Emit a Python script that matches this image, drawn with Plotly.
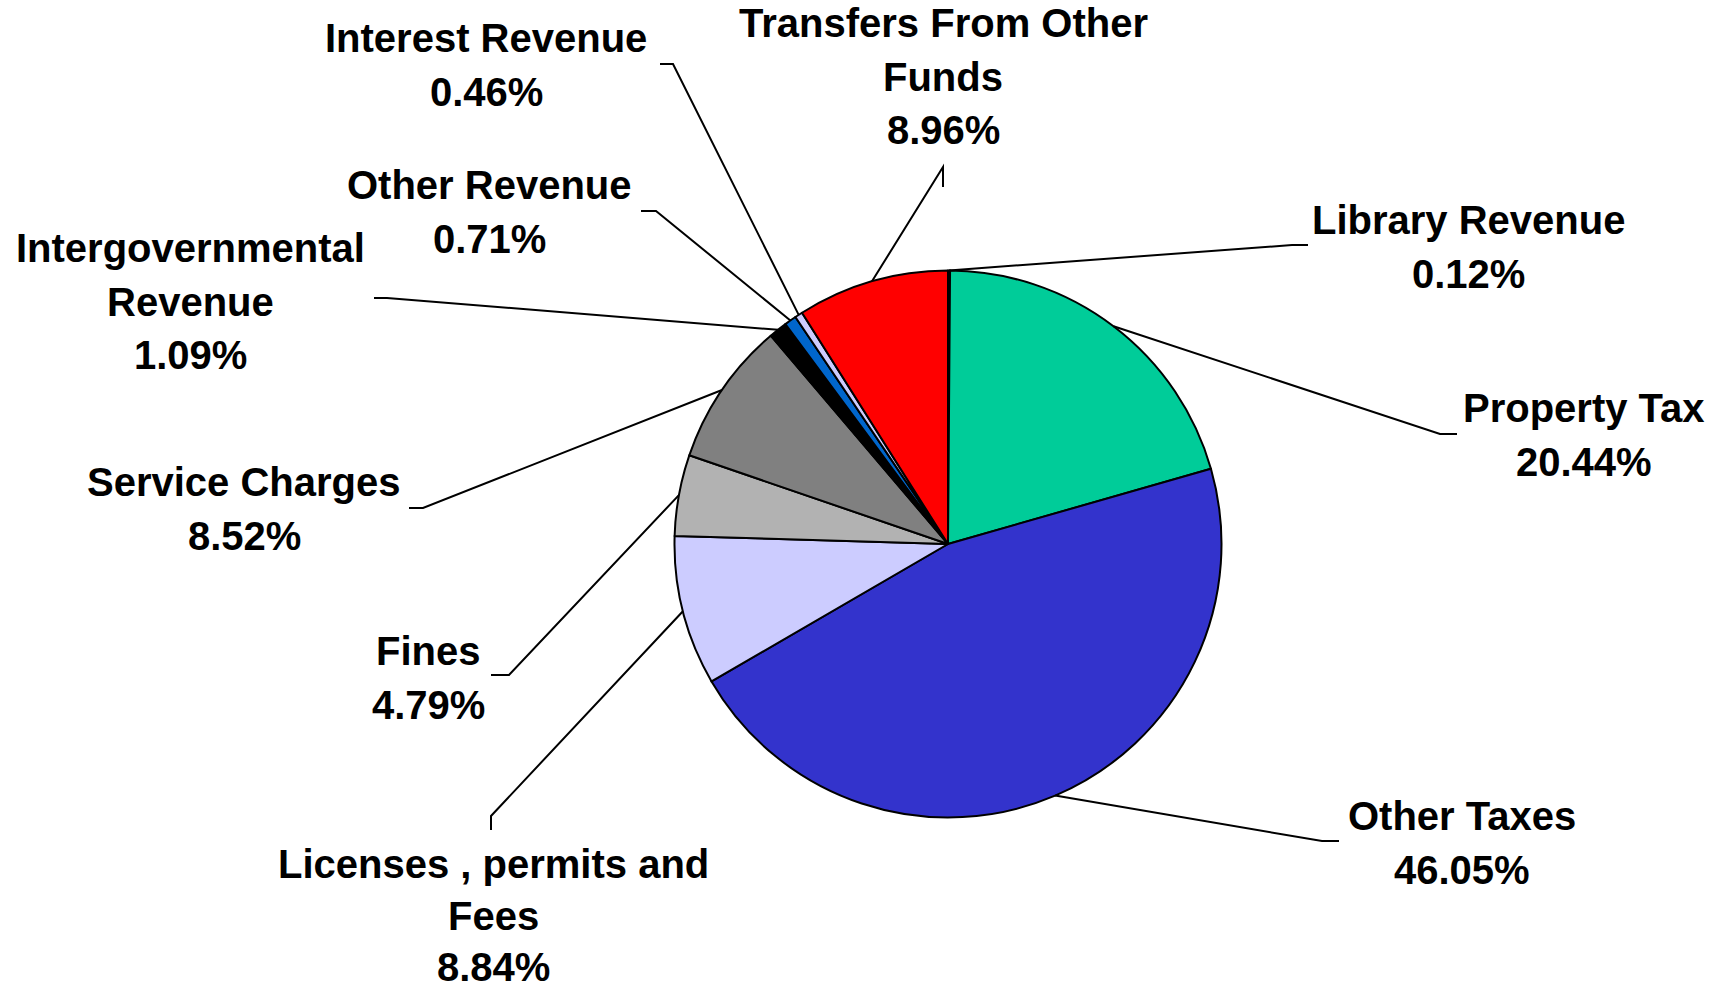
import math
import plotly.graph_objects as go

# Revenue shares (percent), in clockwise order starting at 12 o'clock
categories = [
    "Library Revenue",
    "Property Tax",
    "Other Taxes",
    "Licenses , permits and Fees",
    "Fines",
    "Service Charges",
    "Intergovernmental Revenue",
    "Other Revenue",
    "Interest Revenue",
    "Transfers From Other Funds",
]
shares = [0.12, 20.44, 46.05, 8.84, 4.79, 8.52, 1.09, 0.71, 0.46, 8.96]
colors = [
    "#FFFF99", "#00CC99", "#3333CC", "#CCCCFF", "#B2B2B2",
    "#808080", "#000000", "#0066CC", "#CCCCFF", "#FF0000",
]

# Label text lines (name split as printed)
label_lines = {
    "Library Revenue": ["Library Revenue"],
    "Property Tax": ["Property Tax"],
    "Other Taxes": ["Other Taxes"],
    "Licenses , permits and Fees": ["Licenses , permits and", "Fees"],
    "Fines": ["Fines"],
    "Service Charges": ["Service Charges"],
    "Intergovernmental Revenue": ["Intergovernmental", "Revenue"],
    "Other Revenue": ["Other Revenue"],
    "Interest Revenue": ["Interest Revenue"],
    "Transfers From Other Funds": ["Transfers From Other", "Funds"],
}

W, H = 1724, 992
CX, CY, R = 948, 544, 273.5
FONT = dict(family="Liberation Sans, Arial, sans-serif", size=40, color="black", weight="bold")

# Label layout: text centre x, first-line y, line step, and leader elbow (label side)
label_layout = {
    "Library Revenue": dict(x=1468, y=220, step=53.5, elbow=[(1292, 245), (1308, 245)]),
    "Property Tax": dict(x=1584, y=408, step=53.5, elbow=[(1440, 434), (1457, 434)]),
    "Other Taxes": dict(x=1462, y=816, step=53.5, elbow=[(1322, 841), (1339, 841)]),
    "Licenses , permits and Fees": dict(x=493, y=864, step=51.5, elbow=[(491, 816), (491, 830)]),
    "Fines": dict(x=428, y=651, step=53.5, elbow=[(509, 675), (491, 675)]),
    "Service Charges": dict(x=244, y=482, step=53.5, elbow=[(423, 508), (409, 508)]),
    "Intergovernmental Revenue": dict(x=190, y=248, step=53.5, elbow=[(387, 298), (374, 298)]),
    "Other Revenue": dict(x=489, y=185, step=53.5, elbow=[(656, 211), (641, 211)]),
    "Interest Revenue": dict(x=486, y=38, step=53.5, elbow=[(673, 64), (660, 64)]),
    "Transfers From Other Funds": dict(x=943, y=23, step=53.5, elbow=[(943, 167), (943, 187)]),
}

fig = go.Figure()

fig.add_trace(go.Pie(
    labels=categories,
    values=shares,
    sort=False,
    direction="clockwise",
    rotation=0,
    marker=dict(colors=colors, line=dict(color="black", width=2)),
    textinfo="none",
    hoverinfo="label+percent",
    showlegend=False,
    domain=dict(
        x=[(CX - R) / W, (CX + R) / W],
        y=[(H - CY - R) / H, (H - CY + R) / H],
    ),
))

shapes = []
annotations = []
total = sum(shares)
cum = 0.0
for name, v in zip(categories, shares):
    mid = (cum + v / 2) / total * 2 * math.pi
    cum += v
    ex = CX + R * math.sin(mid)
    ey = CY - R * math.cos(mid)
    lay = label_layout[name]
    (ax, ay), (bx, by) = lay["elbow"]
    # leader: slice edge -> elbow -> short stub by the label
    path = f"M {ex:.1f},{ey:.1f} L {ax},{ay} L {bx},{by}"
    shapes.append(dict(type="path", path=path, xref="x", yref="y",
                       line=dict(color="black", width=2)))
    lines = label_lines[name] + [f"{v:.2f}%"]
    for i, t in enumerate(lines):
        annotations.append(dict(
            x=lay["x"], y=lay["y"] + i * lay["step"], xref="x", yref="y",
            text=t, showarrow=False, xanchor="center", yanchor="middle",
            font=FONT,
        ))

fig.update_layout(
    width=W, height=H,
    margin=dict(l=0, r=0, t=0, b=0),
    paper_bgcolor="white",
    plot_bgcolor="white",
    xaxis=dict(range=[0, W], visible=False, fixedrange=True),
    yaxis=dict(range=[H, 0], visible=False, fixedrange=True),
    shapes=shapes,
    annotations=annotations,
)

fig.write_html("out.html")
